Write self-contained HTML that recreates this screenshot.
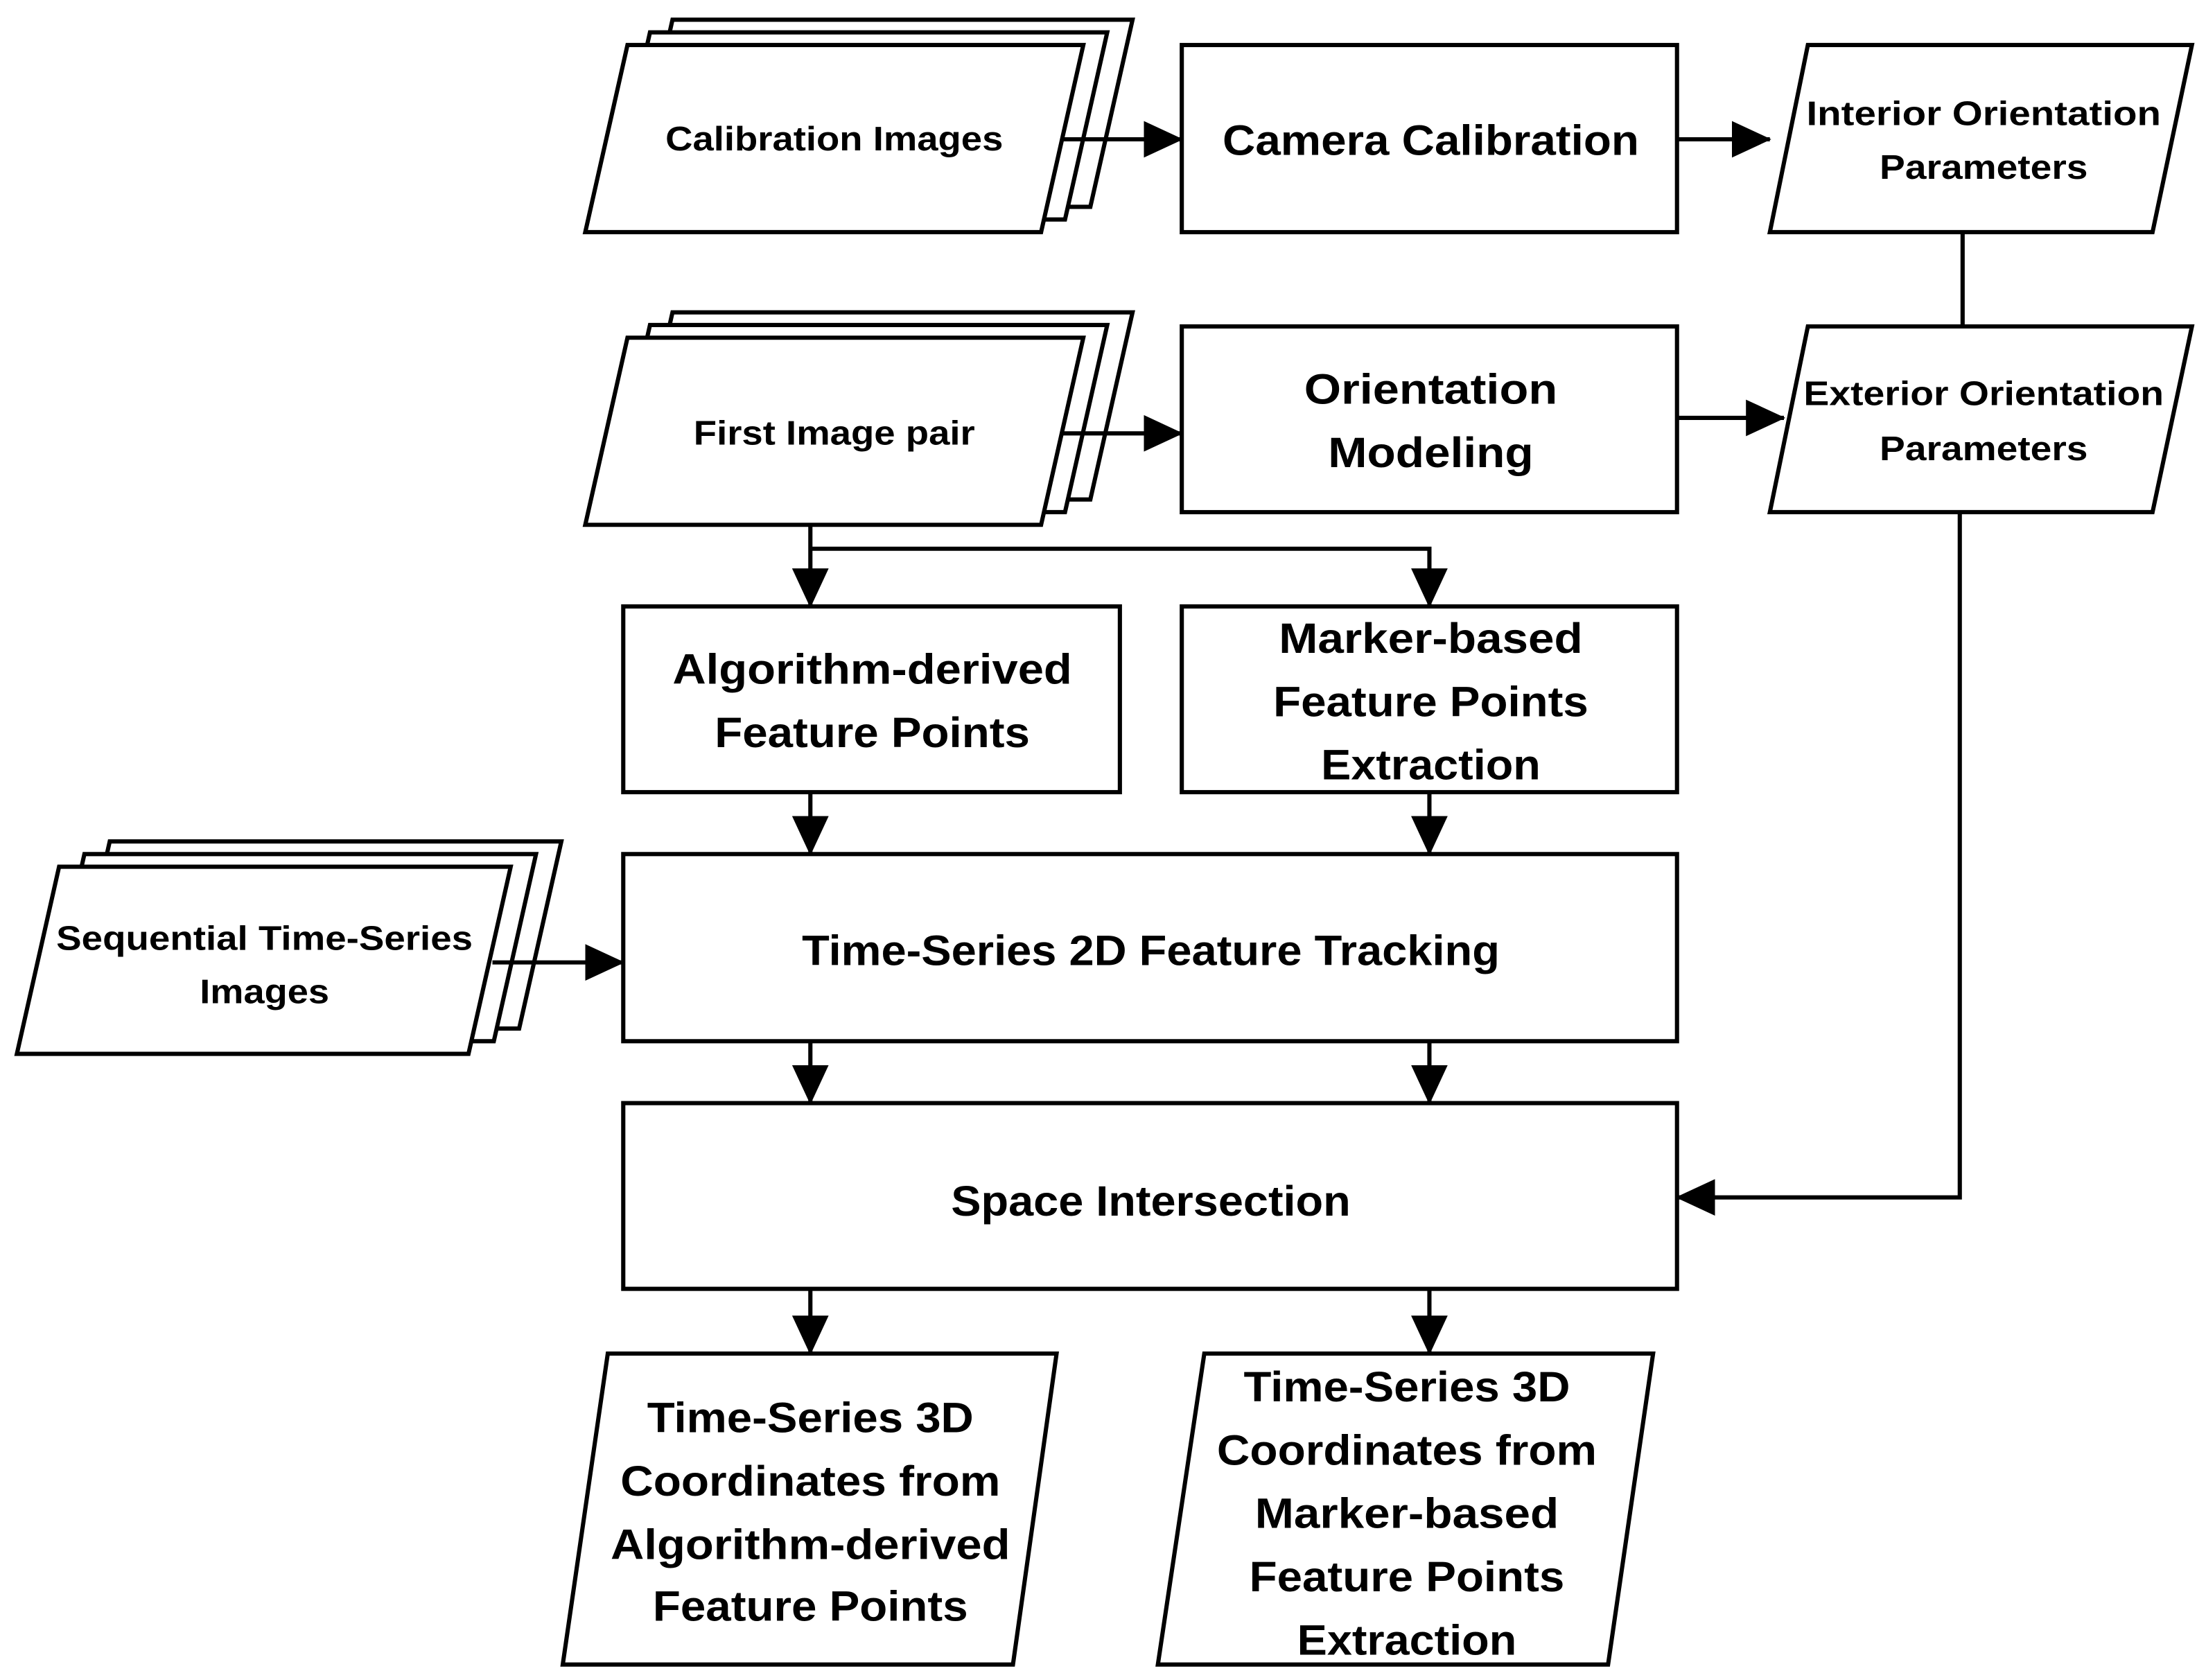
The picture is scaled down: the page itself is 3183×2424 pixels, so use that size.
<!DOCTYPE html>
<html><head><meta charset="utf-8"><style>html,body{margin:0;padding:0;background:#fff}svg{display:block}</style></head>
<body>
<svg width="3183" height="2424" viewBox="0 0 1568 1194" preserveAspectRatio="none" xmlns="http://www.w3.org/2000/svg">
<defs><marker id="a" markerWidth="10" markerHeight="10" refX="9" refY="5" orient="auto" markerUnits="userSpaceOnUse" viewBox="0 0 10 10"><path d="M0,0 L10,5 L0,10z" fill="#000"/></marker>
<marker id="ah" markerWidth="28" markerHeight="26" refX="27" refY="13" orient="auto" markerUnits="userSpaceOnUse"><path d="M0,0 L28,13 L0,26z" fill="#000"/></marker></defs>
<g fill="#fff" stroke="#000" stroke-width="3">
<!-- calibration stack -->
<polygon points="478,14 805,14 775,147 448,147"/>
<polygon points="462,23 787,23 757,156 432,156"/>
<polygon points="446,32 770,32 740,165 416,165"/>
<rect x="840" y="32" width="352" height="133"/>
<polygon points="1285,32 1558,32 1530,165 1258,165"/>
<!-- first pair stack -->
<polygon points="478,222 805,222 775,355 448,355"/>
<polygon points="462,231 787,231 757,364 432,364"/>
<polygon points="446,240 770,240 740,373 416,373"/>
<rect x="840" y="232" width="352" height="132"/>
<polygon points="1285,232 1558,232 1530,364 1258,364"/>
<rect x="443" y="431" width="353" height="132"/>
<rect x="840" y="431" width="352" height="132"/>
<!-- sequential stack -->
<polygon points="78,598 399,598 369,731 48,731"/>
<polygon points="60,607 381,607 351,740 30,740"/>
<polygon points="42,616 363,616 333,749 12,749"/>
<rect x="443" y="607" width="749" height="133"/>
<rect x="443" y="784" width="749" height="132"/>
<polygon points="432,962 751,962 720,1183 400,1183"/>
<polygon points="856,962 1175,962 1143,1183 823,1183"/>
</g>
<g stroke="#000" stroke-width="3" fill="none">
<line x1="755" y1="99" x2="840" y2="99" marker-end="url(#ah)"/>
<line x1="1192" y1="99" x2="1258" y2="99" marker-end="url(#ah)"/>
<line x1="1395" y1="165" x2="1395" y2="232"/>
<line x1="755" y1="308" x2="840" y2="308" marker-end="url(#ah)"/>
<line x1="1192" y1="297" x2="1268" y2="297" marker-end="url(#ah)"/>
<line x1="576" y1="373" x2="576" y2="431" marker-end="url(#ah)"/>
<polyline points="576,390 1016,390 1016,431" marker-end="url(#ah)"/>
<line x1="576" y1="563" x2="576" y2="607" marker-end="url(#ah)"/>
<line x1="1016" y1="563" x2="1016" y2="607" marker-end="url(#ah)"/>
<line x1="350" y1="684" x2="443" y2="684" marker-end="url(#ah)"/>
<line x1="576" y1="740" x2="576" y2="784" marker-end="url(#ah)"/>
<line x1="1016" y1="740" x2="1016" y2="784" marker-end="url(#ah)"/>
<polyline points="1393,364 1393,851 1192,851" marker-end="url(#ah)"/>
<line x1="576" y1="916" x2="576" y2="962" marker-end="url(#ah)"/>
<line x1="1016" y1="916" x2="1016" y2="962" marker-end="url(#ah)"/>
</g>
<g font-family="'Liberation Sans',sans-serif" font-weight="bold" text-anchor="middle" fill="#000">
<g font-size="24">
<text x="593" y="107" textLength="240" lengthAdjust="spacingAndGlyphs">Calibration Images</text>
<text x="1410" y="89" textLength="252" lengthAdjust="spacingAndGlyphs">Interior Orientation</text>
<text x="1410" y="127" textLength="148" lengthAdjust="spacingAndGlyphs">Parameters</text>
<text x="593" y="316" textLength="200" lengthAdjust="spacingAndGlyphs">First Image pair</text>
<text x="1410" y="288" textLength="256" lengthAdjust="spacingAndGlyphs">Exterior Orientation</text>
<text x="1410" y="327" textLength="148" lengthAdjust="spacingAndGlyphs">Parameters</text>
<text x="188" y="675" textLength="296" lengthAdjust="spacingAndGlyphs">Sequential Time-Series</text>
<text x="188" y="713" textLength="92" lengthAdjust="spacingAndGlyphs">Images</text>
</g>
<g font-size="30">
<text x="1017" y="110" textLength="296" lengthAdjust="spacingAndGlyphs">Camera Calibration</text>
<text x="1017" y="287" textLength="180" lengthAdjust="spacingAndGlyphs">Orientation</text>
<text x="1017" y="332" textLength="146" lengthAdjust="spacingAndGlyphs">Modeling</text>
<text x="620" y="486" textLength="284" lengthAdjust="spacingAndGlyphs">Algorithm-derived</text>
<text x="620" y="531" textLength="224" lengthAdjust="spacingAndGlyphs">Feature Points</text>
<text x="1017" y="464" textLength="216" lengthAdjust="spacingAndGlyphs">Marker-based</text>
<text x="1017" y="509" textLength="224" lengthAdjust="spacingAndGlyphs">Feature Points</text>
<text x="1017" y="554" textLength="156" lengthAdjust="spacingAndGlyphs">Extraction</text>
<text x="818" y="686" textLength="496" lengthAdjust="spacingAndGlyphs">Time-Series 2D Feature Tracking</text>
<text x="818" y="864" textLength="284" lengthAdjust="spacingAndGlyphs">Space Intersection</text>
<text x="576" y="1018" textLength="232" lengthAdjust="spacingAndGlyphs">Time-Series 3D</text>
<text x="576" y="1063" textLength="270" lengthAdjust="spacingAndGlyphs">Coordinates from</text>
<text x="576" y="1108" textLength="284" lengthAdjust="spacingAndGlyphs">Algorithm-derived</text>
<text x="576" y="1152" textLength="224" lengthAdjust="spacingAndGlyphs">Feature Points</text>
<text x="1000" y="996" textLength="232" lengthAdjust="spacingAndGlyphs">Time-Series 3D</text>
<text x="1000" y="1041" textLength="270" lengthAdjust="spacingAndGlyphs">Coordinates from</text>
<text x="1000" y="1086" textLength="216" lengthAdjust="spacingAndGlyphs">Marker-based</text>
<text x="1000" y="1131" textLength="224" lengthAdjust="spacingAndGlyphs">Feature Points</text>
<text x="1000" y="1176" textLength="156" lengthAdjust="spacingAndGlyphs">Extraction</text>
</g>
</g>
</svg>
</body></html>
